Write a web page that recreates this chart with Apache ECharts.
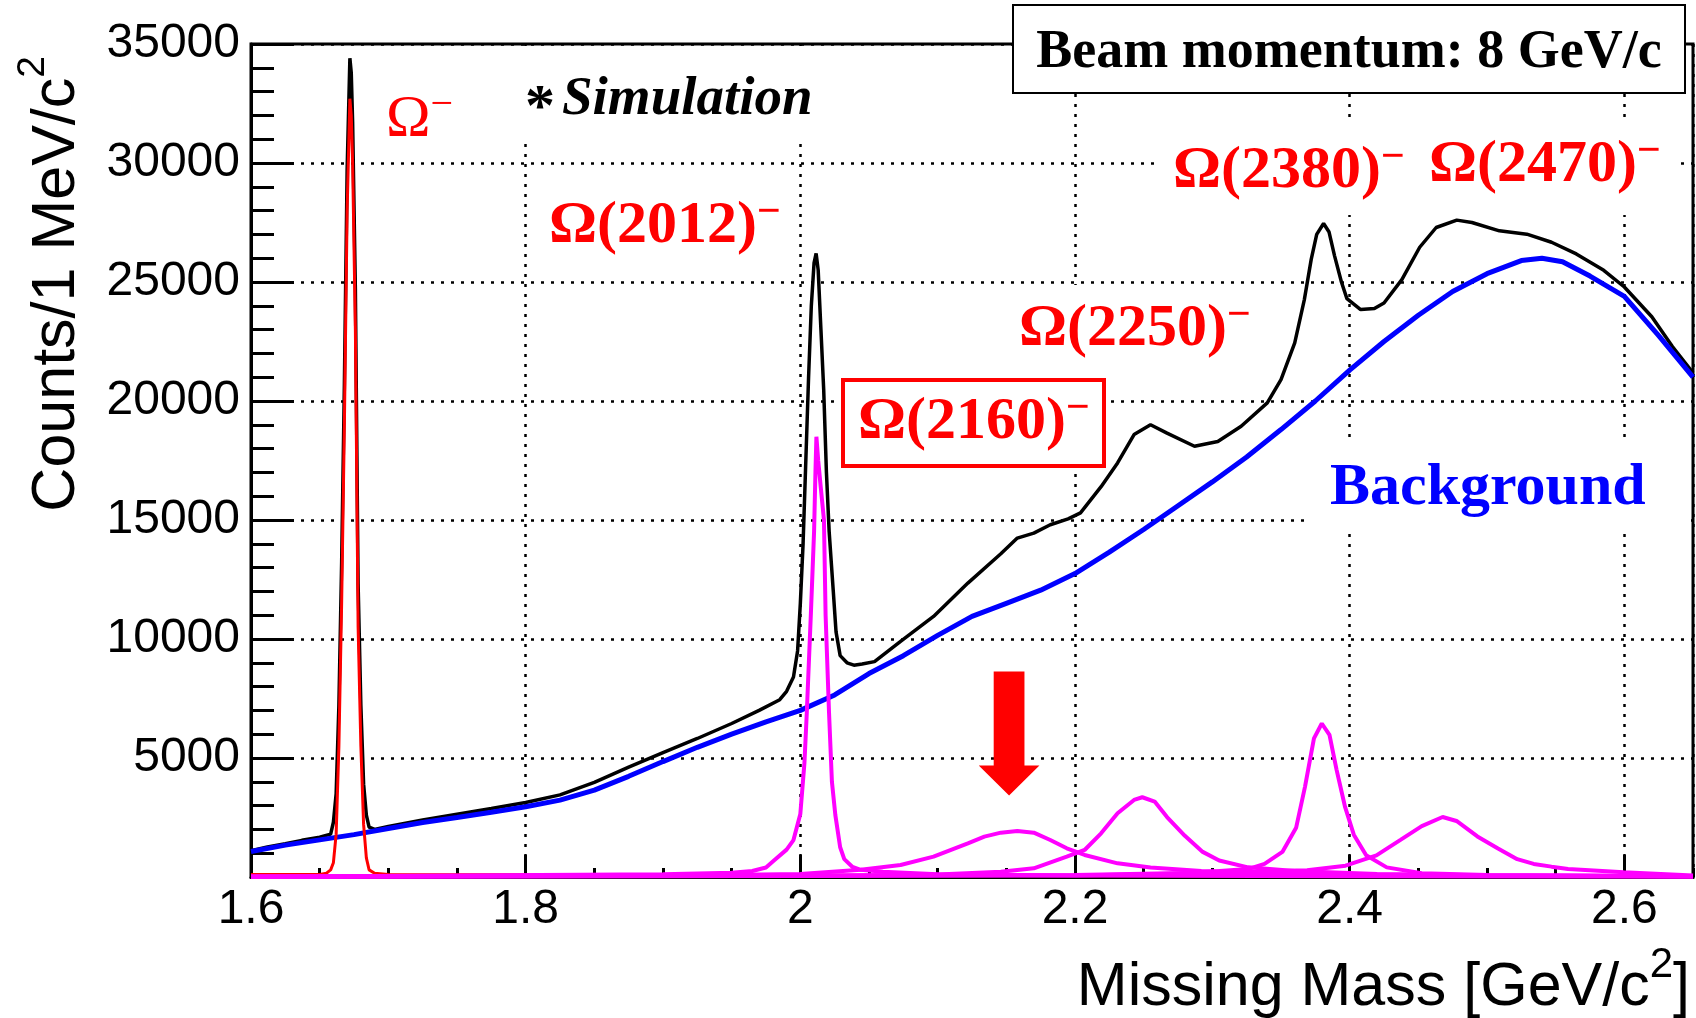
<!DOCTYPE html>
<html>
<head>
<meta charset="utf-8">
<script src="https://cdn.jsdelivr.net/npm/echarts@6/dist/echarts.min.js"></script>
<style>
html,body{margin:0;padding:0;background:#fff;}
#chart{width:1696px;height:1018px;}
</style>
</head>
<body>
<div id="chart"></div>
<script>
// ---------------- data (mass in GeV/c^2, counts per 1 MeV/c^2) ----------------
const xTickValues = [1.6, 1.8, 2.0, 2.2, 2.4, 2.6];
const yTickValues = [0, 5000, 10000, 15000, 20000, 25000, 30000, 35000];

// total spectrum (black)
const totalSpectrum = [
  [1.600,1100],[1.612,1260],[1.625,1400],[1.637,1540],[1.650,1670],[1.658,1800],[1.660,2300],[1.662,3500],
  [1.664,7200],[1.666,13200],[1.668,20700],[1.670,29700],[1.672,34400],[1.673,33800],[1.674,31700],
  [1.676,24700],[1.678,12300],[1.680,7200],[1.682,3900],[1.684,2600],[1.686,2100],[1.690,2000],
  [1.700,2120],[1.725,2400],[1.750,2640],[1.775,2880],[1.800,3130],[1.825,3450],[1.850,3980],
  [1.875,4620],[1.900,5230],[1.925,5820],[1.950,6450],[1.970,7000],[1.985,7450],[1.990,7800],
  [1.995,8400],[1.998,9500],[2.000,11500],[2.002,14000],[2.004,17500],[2.006,21000],[2.008,24000],
  [2.010,25800],[2.0115,26200],[2.013,25500],[2.015,23000],[2.017,20500],[2.019,17000],[2.021,14500],
  [2.024,12000],[2.026,10300],[2.029,9300],[2.034,9000],[2.039,8900],[2.045,8950],[2.054,9050],
  [2.073,9900],[2.097,10950],[2.122,12350],[2.146,13580],[2.158,14240],[2.170,14450],[2.182,14800],
  [2.195,15050],[2.204,15300],[2.219,16400],[2.231,17400],[2.243,18590],[2.255,19000],[2.267,18650],
  [2.287,18100],[2.304,18300],[2.321,18940],[2.340,19920],[2.350,20900],[2.360,22440],[2.367,24260],
  [2.372,25950],[2.376,27000],[2.381,27460],[2.385,27100],[2.389,26100],[2.394,25000],[2.398,24300],
  [2.408,23840],[2.418,23890],[2.425,24120],[2.438,25100],[2.451,26460],[2.463,27290],[2.478,27600],
  [2.489,27500],[2.509,27150],[2.529,27010],[2.547,26670],[2.565,26180],[2.585,25490],[2.600,24790],
  [2.620,23540],[2.635,22290],[2.650,21180]
];

// background (blue)
const backgroundSpectrum = [
  [1.600,1070],[1.625,1340],[1.650,1560],[1.675,1780],[1.700,2040],[1.725,2290],[1.750,2500],
  [1.775,2720],[1.800,2950],[1.825,3230],[1.850,3650],[1.875,4230],[1.900,4850],[1.925,5450],
  [1.950,6000],[1.975,6520],[2.000,7000],[2.025,7650],[2.050,8550],[2.075,9300],[2.100,10150],
  [2.125,10950],[2.150,11500],[2.175,12050],[2.200,12750],[2.225,13650],[2.250,14600],[2.275,15600],
  [2.300,16600],[2.325,17650],[2.350,18800],[2.375,20000],[2.400,21300],[2.425,22500],[2.450,23600],
  [2.475,24600],[2.500,25350],[2.525,25900],[2.540,26000],[2.555,25850],[2.575,25250],[2.600,24400],
  [2.625,22750],[2.650,21000]
];

// Omega(1672)- (red)
const omegaGround = [
  [1.600,110],[1.640,100],[1.650,110],[1.655,160],[1.658,300],[1.660,600],[1.662,1800],[1.664,5500],
  [1.666,11500],[1.668,19000],[1.670,28000],[1.672,32700],[1.673,32000],[1.674,30000],[1.676,23000],
  [1.678,10500],[1.680,5500],[1.682,2200],[1.684,800],[1.686,300],[1.690,160],[1.700,110],[1.800,90],
  [1.900,80],[2.000,70],[2.100,60],[2.300,50],[2.650,40]
];

// excited states (magenta)
const omega2012 = [
  [1.600,15],[1.900,120],[1.950,180],[1.965,250],[1.975,400],[1.981,700],[1.990,1150],[1.995,1550],
  [2.000,2650],[2.003,4800],[2.0047,6900],[2.0077,11100],[2.010,14500],[2.011,17000],[2.0117,18500],
  [2.013,17500],[2.015,16300],[2.0172,15000],[2.0184,11000],[2.0209,6900],[2.023,4000],[2.0255,2600],
  [2.029,1250],[2.032,750],[2.038,420],[2.044,300],[2.060,220],[2.100,120],[2.200,60],[2.400,30],[2.650,15]
];
const omega2160 = [
  [1.600,20],[1.900,50],[2.000,130],[2.044,300],[2.073,505],[2.097,855],[2.122,1416],[2.134,1696],
  [2.146,1864],[2.158,1934],[2.170,1864],[2.182,1556],[2.194,1206],[2.207,925],[2.231,575],[2.255,400],
  [2.292,250],[2.330,180],[2.400,100],[2.500,60],[2.650,30]
];
const omega2250 = [
  [1.600,10],[2.000,40],[2.100,110],[2.146,224],[2.170,364],[2.194,855],[2.207,1135],[2.219,1836],
  [2.231,2677],[2.243,3238],[2.249,3351],[2.258,3168],[2.267,2520],[2.280,1730],[2.293,1055],
  [2.305,694],[2.326,405],[2.360,250],[2.420,130],[2.500,70],[2.650,30]
];
const omega2380 = [
  [1.600,10],[2.200,60],[2.280,150],[2.326,332],[2.338,549],[2.351,1055],[2.361,2066],[2.3675,3800],
  [2.374,5823],[2.3797,6450],[2.3853,5968],[2.3904,4523],[2.3967,2933],[2.403,1777],[2.412,910],
  [2.427,405],[2.4525,159],[2.500,80],[2.650,30]
];
const omega2470 = [
  [1.600,10],[2.200,80],[2.300,190],[2.369,280],[2.397,477],[2.4195,910],[2.437,1561],[2.4525,2139],
  [2.4677,2520],[2.4778,2355],[2.493,1705],[2.508,1199],[2.522,750],[2.534,549],[2.547,435],
  [2.559,332],[2.5995,200],[2.650,60]
];

// arrow marking the Omega(2160)- position: [mass, top, neck, tip] in data units
const arrowMark = [[2.152, 8630, 4680, 3420]];
const arrowShaftHalf = 0.0112;
const arrowHeadHalf = 0.0221;

// ---------------- chart ----------------
const G = {left: 251, top: 44, width: 1442, height: 833};
const SANS = "'Liberation Sans', Arial, Helvetica, sans-serif";
const SERIF = "'Liberation Serif', 'Times New Roman', Times, serif";
const LABEL_FS = 60;

const chart = echarts.init(document.getElementById('chart'), null, {renderer: 'canvas'});

function lineSeries(data, color, width, z) {
  return {type: 'line', data: data, xAxisIndex: 0, yAxisIndex: 0, showSymbol: false, symbol: 'none',
    lineStyle: {color: color, width: width}, itemStyle: {color: color}, z: z, clip: true, animation: false};
}

const supRed = {fontFamily: SERIF, fontWeight: 'bold', fontSize: 42, fill: '#ff0000', padding: [0, 0, 27, 0]};
const mainRed = {fontFamily: SERIF, fontWeight: 'bold', fontSize: LABEL_FS, fill: '#ff0000'};

function omegaLabel(text, left, baseline) {
  return {type: 'text', x: left, y: baseline - 0.3375 * LABEL_FS, z: 50,
    style: {text: '{m|' + text + '}{s|\u2212}', align: 'left', verticalAlign: 'middle',
      rich: {m: mainRed, s: supRed}}};
}

const option = {
  animation: false,
  backgroundColor: '#ffffff',
  grid: [
    Object.assign({show: true, borderColor: '#000', borderWidth: 3, backgroundColor: 'transparent', containLabel: false, outerBoundsMode: 'none'}, G),
    Object.assign({show: false, containLabel: false, outerBoundsMode: 'none'}, G)
  ],
  xAxis: [
    {type: 'value', gridIndex: 0, min: xTickValues[0], max: 2.65, interval: 0.2,
      axisLine: {show: true, onZero: false, lineStyle: {color: '#000', width: 3}},
      axisTick: {show: true, inside: true, length: 22, lineStyle: {color: '#000', width: 3}},
      minorTick: {show: false},
      axisLabel: {show: true, showMaxLabel: false, margin: 9, color: '#000', fontFamily: SANS, fontSize: 48},
      splitLine: {show: true, lineStyle: {color: '#000', width: 2.5, type: [3, 7]}}
    },
    {type: 'value', gridIndex: 1, min: xTickValues[0], max: 2.65, interval: 0.05,
      axisLine: {show: false, onZero: false},
      axisTick: {show: true, inside: true, length: 9, lineStyle: {color: '#000', width: 3}},
      axisLabel: {show: false}, splitLine: {show: false}
    }
  ],
  yAxis: [
    {type: 'value', gridIndex: 0, min: yTickValues[0], max: yTickValues[yTickValues.length - 1], interval: 5000,
      axisLine: {show: true, onZero: false, lineStyle: {color: '#000', width: 3}},
      axisTick: {show: true, inside: true, length: 43, lineStyle: {color: '#000', width: 3}},
      minorTick: {show: true, splitNumber: 5, length: 23, lineStyle: {color: '#000', width: 3}},
      axisLabel: {show: true, showMinLabel: false, margin: 11, color: '#000', fontFamily: SANS, fontSize: 48,
        padding: [7, 0, 0, 0],
        formatter: function (v) { return String(v); }},
      splitLine: {show: true, lineStyle: {color: '#000', width: 2.5, type: [3, 7]}},
      name: 'Counts/1 MeV/c{sup|2}', nameLocation: 'end', nameGap: -12, nameRotate: 90, nameMoveOverlap: false,
      nameTextStyle: {fontFamily: SANS, fontSize: 61, color: '#000', align: 'right', verticalAlign: 'bottom',
        padding: [0, 0, 151, 0],
        rich: {sup: {fontFamily: SANS, fontSize: 39, color: '#000', padding: [0, 0, 47, 0]}}}
    },
    {type: 'value', gridIndex: 1, min: 0, max: 35000, show: false, splitLine: {show: false}}
  ],
  series: [
    lineSeries(totalSpectrum, '#000000', 3.5, 2),
    lineSeries(backgroundSpectrum, '#0000ff', 5, 3),
    lineSeries(omegaGround, '#ff0000', 3, 4),
    lineSeries(omega2012, '#ff00ff', 4, 5),
    lineSeries(omega2160, '#ff00ff', 4, 5),
    lineSeries(omega2250, '#ff00ff', 4, 5),
    lineSeries(omega2380, '#ff00ff', 4, 5),
    lineSeries(omega2470, '#ff00ff', 4, 5),
    {type: 'custom', xAxisIndex: 0, yAxisIndex: 0, data: arrowMark, z: 20, clip: false, animation: false,
      renderItem: function (params, api) {
        const m = api.value(0), top = api.value(1), neck = api.value(2), tip = api.value(3);
        const pts = [[m - arrowShaftHalf, top], [m + arrowShaftHalf, top], [m + arrowShaftHalf, neck],
          [m + arrowHeadHalf, neck], [m, tip], [m - arrowHeadHalf, neck], [m - arrowShaftHalf, neck]]
          .map(function (p) { return api.coord(p); });
        return {type: 'polygon', shape: {points: pts}, style: {fill: '#ff0000', stroke: null}};
      }
    }
  ],
  graphic: [
    // x-axis title
    {type: 'text', z: 50, x: 1690, y: 1009 - 0.3465 * 61,
      style: {text: '{m|Missing Mass [GeV/c}{s|2}{m|]}', align: 'right', verticalAlign: 'middle',
        rich: {m: {fontFamily: SANS, fontSize: 61, fill: '#000'},
               s: {fontFamily: SANS, fontSize: 42, fill: '#000', padding: [0, 0, 45, 0]}}}},
    // white backgrounds of the annotation text boxes
    {type: 'rect', z: 1, shape: {x: 505, y: 46, width: 330, height: 97}, style: {fill: '#fff'}},
    {type: 'rect', z: 1, shape: {x: 1012, y: 285, width: 248, height: 92}, style: {fill: '#fff'}},
    {type: 'rect', z: 1, shape: {x: 1155, y: 120, width: 525, height: 95}, style: {fill: '#fff'}},
    {type: 'rect', z: 1, shape: {x: 1310, y: 438, width: 380, height: 95}, style: {fill: '#fff'}},
    {type: 'rect', z: 1, shape: {x: 843, y: 380, width: 261, height: 86}, style: {fill: '#fff', stroke: '#ff0000', lineWidth: 4}},
    // beam momentum box
    {type: 'rect', z: 30, shape: {x: 1013, y: 5, width: 672, height: 88}, style: {fill: '#fff', stroke: '#000', lineWidth: 2}},
    {type: 'text', z: 31, x: 1349, y: 71 - 0.3375 * 54,
      style: {text: 'Beam momentum: 8 GeV/c', align: 'center', verticalAlign: 'middle', fill: '#000',
        font: 'bold 54px ' + SERIF}},
    // simulation tag
    {type: 'text', z: 50, x: 525, y: 118 - 0.3375 * 55,
      style: {text: '{a|*}{t|Simulation}', align: 'left', verticalAlign: 'middle',
        rich: {a: {fontFamily: SERIF, fontWeight: 'bold', fontSize: 60, fill: '#000', padding: [20, 7, 0, 0]},
               t: {fontFamily: SERIF, fontWeight: 'bold', fontStyle: 'italic', fontSize: 55, fill: '#000'}}}},
    // Omega- (regular weight)
    {type: 'text', z: 50, x: 386, y: 140 - 0.3375 * 60,
      style: {text: '{m|\u03A9}{s|\u2212}', align: 'left', verticalAlign: 'middle',
        rich: {m: {fontFamily: SERIF, fontSize: 60, fill: '#ff0000'},
               s: {fontFamily: SERIF, fontSize: 40, fill: '#ff0000', padding: [0, 0, 28, 0]}}}},
    omegaLabel('\u03A9(2012)', 549, 247),
    omegaLabel('\u03A9(2160)', 858, 443),
    omegaLabel('\u03A9(2250)', 1019, 350),
    omegaLabel('\u03A9(2380)', 1173, 192),
    omegaLabel('\u03A9(2470)', 1429, 186),
    {type: 'text', z: 50, x: 1330, y: 509 - 0.3375 * 60,
      style: {text: 'Background', align: 'left', verticalAlign: 'middle', fill: '#0000ff',
        font: 'bold 60px ' + SERIF}}
  ]
};

chart.setOption(option);
</script>
</body>
</html>
